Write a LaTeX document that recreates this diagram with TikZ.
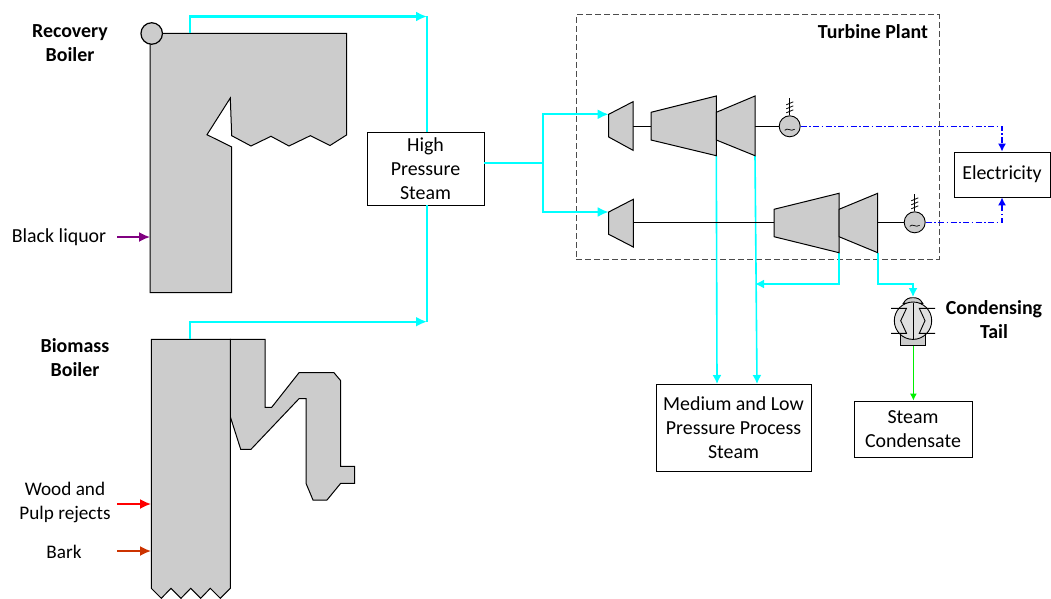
\documentclass[tikz,border=0pt]{standalone}
\usepackage{fontspec}
\setmainfont{Carlito}
\usepackage{tikz}
\usetikzlibrary{arrows.meta,positioning,calc}
\definecolor{Unit}{HTML}{CCCCCC}
\definecolor{Steam}{HTML}{00FFFF}
\definecolor{Power}{HTML}{0000FF}
\definecolor{Liquor}{HTML}{800080}
\definecolor{Wood}{HTML}{FF0000}
\definecolor{Bark}{HTML}{CC3300}
\definecolor{Water}{HTML}{00EE00}

\begin{document}
\begin{tikzpicture}[
  x=1pt,y=-1pt,
  every node/.style={font=\fontsize{19.9}{24}\selectfont},
  unit/.style={draw=black,fill=Unit,line width=1pt,line join=miter},
  box/.style={draw=black,fill=white,line width=0.9pt,inner sep=0pt,align=center},
  lbl/.style={align=center,inner sep=0pt},
  head/.style={align=center,inner sep=0pt,font=\fontsize{19.9}{24}\selectfont\bfseries},
  gen/.style={circle,draw=black,fill=Unit,line width=0.9pt,minimum size=21pt,inner sep=0pt},
  shaft/.style={draw=black,line width=1.1pt},
  steam/.style={-{Latex[length=11pt,width=10pt]},draw=Steam,line width=2.2pt},
  steamline/.style={draw=Steam,line width=2.2pt},
  tapoff/.style={-{Latex[length=9pt,width=9pt]},draw=Steam,line width=1.6pt},
  feed/.style={-{Latex[length=11pt,width=10pt]},line width=1.7pt},
  power/.style={-{Latex[length=8pt,width=8pt]},draw=Power,line width=1.2pt,dash pattern=on 6pt off 2.5pt on 1.5pt off 2.5pt}
]
\useasboundingbox (0,0) rectangle (1051,599);

% boilers
\draw[unit] (150,33.5) -- (346.5,33.5) -- (346.5,135) -- (330,145.5) -- (310.3,135.7) -- (289,146) -- (271,136.3) -- (251,146) -- (231.7,135.7) -- (230.3,98) -- (207,134.7) -- (231.7,147) -- (231.7,292.7) -- (150,292.7) -- cycle;
\draw[unit] (230.3,339.3) -- (265,339.3) -- (265,407.3) -- (271.7,407.3) -- (299,372.7) -- (334,372.7) -- (340.7,380.7) -- (340.7,466.3) -- (354.7,466.3) -- (354.7,483.3) -- (340.7,483.3) -- (327,500) -- (313,500) -- (306,483.3) -- (306,398.7) -- (299,398.7) -- (251,449.3) -- (240.7,449.3) -- (230.3,416.7) -- cycle;
\draw[unit] (151.3,339.3) -- (230.3,339.3) -- (230.3,588.3) -- (220.3,598.3) -- (210.3,588.3) -- (200.7,598.3) -- (190.7,588.3) -- (181,598.3) -- (171,588.3) -- (161.3,598.3) -- (151.3,588.3) -- cycle;
\node[gen,minimum size=21.5pt,line width=1.2pt] (drum) at (151.7,33.5) {};

% boxes
\node[box,minimum width=117pt,minimum height=72.5pt] (hps) at (425.5,168.7) {High\\Pressure\\Steam};
\node[box,minimum width=96pt,minimum height=45pt] (elec) at (1002,174.5) {Electricity};
\node[box,minimum width=155pt,minimum height=87pt] (proc) at (733.5,427.5) {Medium and Low\\Pressure Process\\Steam};
\node[box,minimum width=118pt,minimum height=56pt] (cond) at (913,429) {Steam\\Condensate};

% labels
\node[head] (recl) at (70,43) {Recovery\\Boiler};
\node[head] (biol) at (75,358) {Biomass\\Boiler};
\node[lbl] (liq) at (59,237) {Black liquor};
\node[lbl,font=\fontsize{19.2}{24}\selectfont] (wood) at (65,502) {Wood and\\Pulp rejects};
\node[lbl,font=\fontsize{19.2}{24}\selectfont] (bark) at (64,552) {Bark};
\node[head] (plant) at (873,32) {Turbine Plant};
\node[head] (tail) at (994,320) {Condensing\\Tail};

% plant frame
\node[draw=black!70,dash pattern=on 6pt off 3pt,line width=1pt,minimum width=363pt,minimum height=244pt,inner sep=0pt] (frame) at (757.5,137) {};

% connector ends
\coordinate (rbout) at (190,33.5);
\coordinate (bbout) at (190,339.3);
\coordinate (rbjoin) at (427,16.5);
\coordinate (bbjoin) at (427,321.7);
\coordinate (split) at (543,163);
\coordinate (t1in) at (608.7,114.3);
\coordinate (t2in) at (608.7,212);
\coordinate (t1mid) at (716.3,155.7);
\coordinate (t1end) at (755,155.7);
\coordinate (t2mid) at (839,252.7);
\coordinate (t2end) at (877.7,252.7);
\coordinate (t2tap) at (878,252.7);
\coordinate (hdr) at (755,284);
\coordinate (hdr2) at (913,284);
\coordinate (cin) at (913,297);
\coordinate (cout) at (913.4,345.7);
\coordinate (procl) at (717,384);
\coordinate (procr) at (757,384);
\coordinate (liqs) at (117,237);
\coordinate (liqe) at (150,237);
\coordinate (woods) at (117,504);
\coordinate (woode) at (151,504);
\coordinate (barks) at (117,551);
\coordinate (barke) at (151,551);

% steam
\draw[steamline] (rbjoin) -- (hps.north -| rbjoin);
\draw[steamline] (hps.south -| bbjoin) -- (bbjoin);
\draw[steam] (rbout) |- (rbjoin);
\draw[steam] (bbout) |- (bbjoin);
\draw[steamline] (hps.east |- split) -- (split);
\draw[steam] (split) |- (t1in);
\draw[steam] (split) |- (t2in);
\draw[tapoff] (t1mid) -- (procl);
\draw[tapoff] (t1end) -- (procr);
\draw[tapoff] (t2mid) |- (hdr);
\draw[tapoff] (t2tap) |- (hdr2) -- (cin);
\draw[-{Latex[length=7pt,width=7pt]},draw=Water,line width=1.1pt] (cout) -- (cout |- cond.north);

% feeds
\draw[feed,draw=Liquor] (liqs) -- (liqe);
\draw[feed,draw=Wood] (woods) -- (woode);
\draw[feed,draw=Bark] (barks) -- (barke);

% shafts
\draw[shaft] (633,126.5) -- (651,126.5);
\draw[shaft] (755,126.5) -- (779.3,126.5);
\draw[shaft] (633.3,222.5) -- (774.3,222.5);
\draw[shaft] (877.7,222.5) -- (904.3,222.5);

% turbines
\draw[unit] (t1in) -- (633,101.7) -- (633,150.3) -- (608.7,137) -- cycle;
\draw[unit] (651,112.3) -- (716.3,96) -- (t1mid) -- (651,140) -- cycle;
\draw[unit] (716.3,112.3) -- (755,96) -- (t1end) -- (716.3,140) -- cycle;
\draw[unit] (t2in) -- (633.3,199.3) -- (633.3,247) -- (608.7,234.3) -- cycle;
\draw[unit] (774,209.3) -- (839,193.3) -- (t2mid) -- (774,236.7) -- cycle;
\draw[unit] (839,209.3) -- (877.7,193.3) -- (t2end) -- (839,236.7) -- cycle;

% generators
\node[gen] (gen1) at (789.7,126.3) {};
\node[gen] (gen2) at (914.7,222.3) {};
\foreach \g in {gen1,gen2} {
  \draw[line width=0.9pt] (\g.north) -- ++(0,-17);
  \foreach \d in {4,8,12}
    \draw[line width=0.8pt] ($(\g.north)+(-3.5,-\d+1.5)$) -- ++(7,-3);
  \draw[line width=0.7pt] ($(\g)+(-5,4)$) .. controls ($(\g)+(-2,0.5)$) and ($(\g)+(1,6)$) .. ($(\g)+(5,3)$);
}
\draw[power] (gen1.east) -| (elec.north);
\draw[power] (gen2.east) -| (elec.south);

% condenser
\draw[unit,line width=0.9pt] (900.3,333) -- (900.3,345.7) -- (925.7,345.7) -- (925.7,333) -- cycle;
\draw[unit,line width=0.9pt] (903.3,303.3) .. controls (906,298.5) and (909,297.7) .. (913,297.7) .. controls (917,297.7) and (920,298.5) .. (922.7,303.3) -- cycle;
\draw[unit,line width=0.9pt,fill=black!12] (913,320.7) circle (18.7);
\draw[line width=0.9pt] (913,303) -- (913,338.5);
\draw[line width=0.9pt] (891,308.3) -- (906.5,308.3) -- (900.7,320.7) -- (906.5,333.3) -- (891,333.3);
\draw[line width=0.9pt] (935,308.3) -- (919.3,308.3) -- (925,320.7) -- (919.3,333.3) -- (935,333.3);
\end{tikzpicture}
\end{document}
